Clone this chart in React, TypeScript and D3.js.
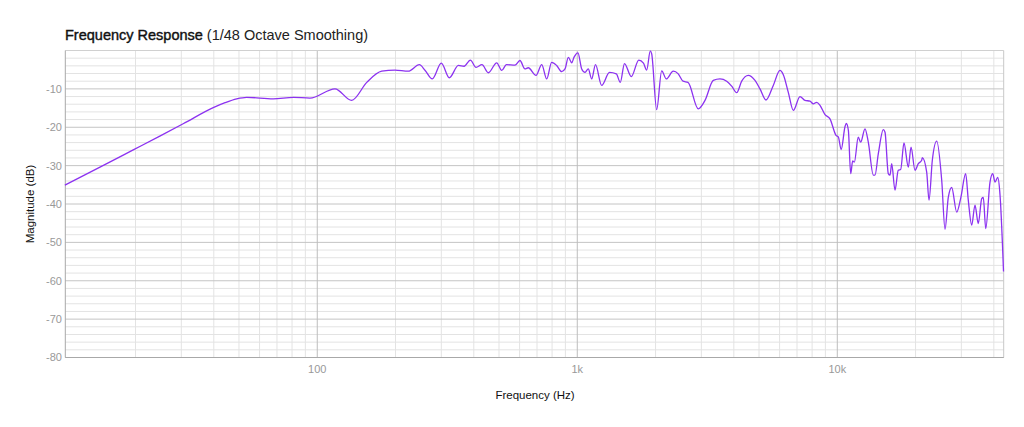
import * as d3 from "d3";

// frequency (Hz) and magnitude (dB)
const freqs = [
  10.7, 14.6, 19.6, 24.8, 30.5, 39.8, 44.2, 49, 53.5, 67.7, 80.9, 93.7, 117, 135.6, 155, 177, 199, 224,
  247, 260, 277, 300, 322, 349, 367, 388, 408, 430, 455, 490, 512, 534, 576, 602, 629, 648, 694, 730, 763,
  797, 833, 871, 897, 924, 952, 971, 1006, 1040, 1071, 1102, 1136, 1175, 1241, 1330, 1413, 1464, 1519,
  1613, 1724, 1797, 1849, 1909, 1933, 2020, 2112, 2200, 2339, 2445, 2550, 2666, 2920, 3099, 3335, 3539,
  3755, 3925, 4103, 4289, 4547, 4825, 5043, 5319, 5673, 6020, 6200, 6480, 6774, 7187, 7513, 7852, 8086,
  8333, 8581, 8968, 9373, 9886, 10090, 10350, 10710, 10830, 11030, 11260, 11460, 11630, 12040, 12300,
  12780, 13160, 13760, 13960, 14380, 15030, 15260, 15710, 15950, 16190, 16670, 17160, 17530, 18050,
  18760, 19210, 19900, 20490, 21120, 21230, 22070, 22530, 23200, 24120, 25210, 25960, 26730, 27540,
  28790, 29850, 31170, 31900, 32880, 33850, 34860, 35930, 36440, 37230, 38670, 39610, 40420, 41400,
  42260, 43580,
];
const magnitudes = [
  -35.1, -30.4, -25.9, -22.3, -19.1, -14.9, -13.6, -12.6, -12.2, -12.6, -12.2, -12.4, -10.0, -13.0, -8.3,
  -5.4, -5.1, -5.4, -3.7, -5.2, -7.4, -3.3, -7.1, -3.9, -4.1, -2.5, -4.4, -3.7, -5.8, -3.2, -5.2, -3.7,
  -3.8, -2.6, -4.8, -4.5, -6.5, -3.7, -7.4, -3.1, -3.9, -5.5, -4.8, -1.8, -3.2, -1.8, -0.6, -4.8, -5.7,
  -4.8, -7.4, -3.7, -9.1, -5.7, -6.1, -8.3, -3.4, -6.8, -2.5, -3.3, -5.1, -0.1, -0.9, -15.4, -5.3, -7.4,
  -5.4, -6.1, -8.0, -8.3, -15.2, -13.0, -7.8, -7.4, -8.0, -9.3, -11.0, -8.0, -6.5, -7.8, -10.0, -12.9,
  -9.1, -5.2, -6.3, -10.9, -15.6, -12.0, -13.0, -13.2, -13.9, -13.5, -14.3, -16.7, -17.8, -22.1, -22.5,
  -25.8, -19.8, -19.0, -20.8, -32.1, -28.8, -29.1, -22.6, -23.9, -20.4, -23.9, -32.5, -32.5, -26.9, -20.6,
  -21.3, -32.1, -32.5, -29.5, -36.4, -31.2, -31.0, -24.1, -30.4, -25.2, -31.2, -29.5, -28.6, -27.9, -31.7,
  -39.0, -28.6, -23.6, -33.8, -46.6, -38.2, -35.7, -42.1, -38.4, -32.1, -39.0, -45.5, -40.3, -45.1, -38.6,
  -38.3, -46.4, -34.3, -32.1, -34.3, -33.1, -37.7, -57.6,
];

const yTicks = [-80, -70, -60, -50, -40, -30, -20, -10];
const xTicks = [100, 1000, 10000];
const xTickLabels = ["100", "1k", "10k"];

const W = 1024;
const H = 427;
const left = 65.3;
const right = 1003.7;
const top = 50.5;
const bottom = 357.5;
const fontFamily = "'Helvetica Neue', Helvetica, 'Liberation Sans', Arial, sans-serif";

export default function App() {
  const x = d3.scaleLog().domain([10.74, 43650]).range([left, right]);
  const y = d3.scaleLinear().domain([-80, 0]).range([bottom, top]);

  // minor gridlines: 2..9 of each decade, every 2 dB
  const minorX: number[] = [];
  for (let dec = 10; dec <= 10000; dec *= 10) {
    for (let k = 2; k <= 9; k++) {
      const f = dec * k;
      if (f > 10.74 && f < 43650) minorX.push(f);
    }
  }
  const minorY = d3.range(-78, 0, 2).filter((v) => v % 10 !== 0);

  const data = freqs.map((f, i) => [f, magnitudes[i]] as [number, number]);
  const line = d3
    .line<[number, number]>()
    .x((d) => x(d[0]))
    .y((d) => y(d[1]))
    .curve(d3.curveMonotoneX);

  return (
    <svg
      width={W}
      height={H}
      style={{ position: "absolute", left: 0, top: 0, background: "#fff" }}
      fontFamily={fontFamily}
    >
      <text x={65} y={39.5} fontSize={14.5} fill="#111">
        <tspan stroke="#111" strokeWidth={0.4}>Frequency Response</tspan>
        <tspan fill="#222"> (1/48 Octave Smoothing)</tspan>
      </text>

      {minorY.map((v) => (
        <line key={"my" + v} x1={left} x2={right} y1={y(v)} y2={y(v)} stroke="#e3e3e3" strokeWidth={1} />
      ))}
      {minorX.map((f) => (
        <line key={"mx" + f} x1={x(f)} x2={x(f)} y1={top} y2={bottom} stroke="#e3e3e3" strokeWidth={1} />
      ))}
      {yTicks.map((v) => (
        <line key={"y" + v} x1={left} x2={right} y1={y(v)} y2={y(v)} stroke="#c4c4c4" strokeWidth={1} />
      ))}
      {xTicks.map((f) => (
        <line key={"x" + f} x1={x(f)} x2={x(f)} y1={top} y2={bottom} stroke="#bdbdbd" strokeWidth={1} />
      ))}
      <line x1={left} x2={right} y1={top} y2={top} stroke="#d0d0d0" />
      <line x1={right} x2={right} y1={top} y2={bottom} stroke="#c8c8c8" />
      <line x1={left} x2={left} y1={top} y2={bottom} stroke="#a8a8a8" />
      <line x1={left} x2={right} y1={bottom} y2={bottom} stroke="#a8a8a8" />

      {yTicks.map((v) => (
        <text key={"yl" + v} x={62} y={y(v)} dy="0.36em" textAnchor="end" fontSize={11} fill="#999">
          {v}
        </text>
      ))}
      {xTicks.map((f, i) => (
        <text key={"xl" + f} x={x(f)} y={373} textAnchor="middle" fontSize={11} fill="#999">
          {xTickLabels[i]}
        </text>
      ))}

      <path d={line(data) ?? ""} fill="none" stroke="#8c32f0" strokeWidth={1.3} strokeLinejoin="round" />

      <text x={535} y={399} textAnchor="middle" fontSize={11.5} fill="#111">
        Frequency (Hz)
      </text>
      <text transform="translate(34,204) rotate(-90)" textAnchor="middle" fontSize={11.5} fill="#111">
        Magnitude (dB)
      </text>
    </svg>
  );
}
